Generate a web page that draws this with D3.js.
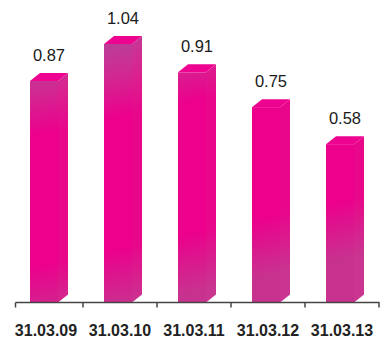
<!DOCTYPE html>
<html>
<head>
<meta charset="utf-8">
<script src="https://cdn.jsdelivr.net/npm/d3@7"></script>
<style>
  html, body { margin: 0; padding: 0; background: #fff; }
  svg { display: block; }
</style>
</head>
<body>
<div id="chart"></div>
<script>
// Dividend per share at each year end
const categories = ["31.03.09", "31.03.10", "31.03.11", "31.03.12", "31.03.13"];
const values = [0.87, 1.04, 0.91, 0.75, 0.58];
const valueLabels = ["0.87", "1.04", "0.91", "0.75", "0.58"];

const W = 383, H = 341;
const axisY = 302.5;
const frontW = 28, depthX = 10, depthY = 8;

const svg = d3.select("#chart").append("svg")
  .attr("width", W).attr("height", H);

const x = d3.scaleBand().domain(categories).range([9, 379]).padding(0);
const y = d3.scaleLinear().domain([-0.147, 1.04]).range([axisY, 44]);

const defs = svg.append("defs");

// front face: purple at the top, magenta body, a slight purple tint near the base
const gFront = defs.append("linearGradient").attr("id", "gFront")
  .attr("gradientUnits", "userSpaceOnUse")
  .attr("x1", 0).attr("y1", 40).attr("x2", 60).attr("y2", 320);
[[0, "#a64f9c"], [0.2, "#d02a92"], [0.35, "#ec008c"], [0.8, "#ec008c"], [1, "#c8328f"]]
  .forEach(([o, c]) => gFront.append("stop").attr("offset", o).attr("stop-color", c));

const gSide = defs.append("linearGradient").attr("id", "gSide")
  .attr("gradientUnits", "userSpaceOnUse")
  .attr("x1", 0).attr("y1", 40).attr("x2", 60).attr("y2", 320);
[[0, "#b3489a"], [0.2, "#d8258f"], [0.35, "#e8078b"], [0.8, "#e8078b"], [1, "#c93590"]]
  .forEach(([o, c]) => gSide.append("stop").attr("offset", o).attr("stop-color", c));

const bars = svg.append("g").selectAll("g")
  .data(categories.map((c, i) => ({ c, v: values[i], label: valueLabels[i] })))
  .join("g");

const left = d => x(d.c) + x.bandwidth() / 2 - 16;

// side face
bars.append("path")
  .attr("fill", "url(#gSide)")
  .attr("d", d => {
    const x0 = left(d) + frontW, t = y(d.v);
    return `M${x0},${t} L${x0 + depthX},${t - depthY} L${x0 + depthX},${axisY - depthY} L${x0},${axisY} Z`;
  });

// front face
bars.append("rect")
  .attr("fill", "url(#gFront)")
  .attr("x", d => left(d))
  .attr("y", d => y(d.v))
  .attr("width", frontW)
  .attr("height", d => axisY - y(d.v));

// top face
bars.append("path")
  .attr("fill", "#ee0390")
  .attr("d", d => {
    const x0 = left(d), t = y(d.v);
    return `M${x0},${t} L${x0 + depthX},${t - depthY} L${x0 + frontW + depthX},${t - depthY} L${x0 + frontW},${t} Z`;
  });

// value labels
bars.append("text")
  .attr("x", d => left(d) + (frontW + depthX) / 2)
  .attr("y", d => y(d.v) - depthY - 12)
  .attr("text-anchor", "middle")
  .attr("font-family", "Liberation Sans, Arial, sans-serif")
  .attr("font-size", 16.5)
  .attr("fill", "#1a1a1a")
  .text(d => d.label);

// category axis
const axis = svg.append("g").attr("transform", `translate(0,${axisY})`)
  .call(d3.axisBottom(x).tickSize(0).tickPadding(22));
axis.select(".domain").remove();
axis.selectAll("text")
  .attr("font-family", "Liberation Sans, Arial, sans-serif")
  .attr("font-size", 16)
  .attr("font-weight", "bold")
  .attr("fill", "#222");

const ax = svg.append("g").attr("stroke", "#444").attr("stroke-width", 1.5);
ax.append("line").attr("x1", 15.5).attr("x2", 379.5).attr("y1", axisY).attr("y2", axisY);
const tickXs = [15.5].concat(categories.slice(1).map(c => x(c)), [x(categories[categories.length - 1]) + x.bandwidth()]);
ax.selectAll("line.tick").data(tickXs).join("line").attr("class", "tick")
  .attr("x1", d => d).attr("x2", d => d)
  .attr("y1", axisY).attr("y2", axisY + 5);
</script>
</body>
</html>
